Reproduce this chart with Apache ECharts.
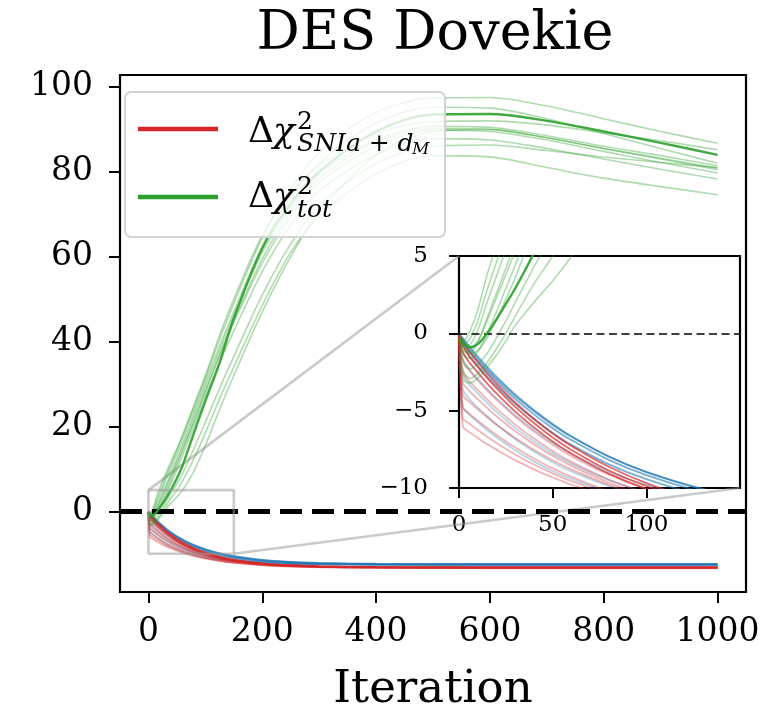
<!DOCTYPE html>
<html>
<head>
<meta charset="utf-8">
<script src="https://cdn.jsdelivr.net/npm/echarts@6/dist/echarts.min.js"></script>
<style>html,body{margin:0;padding:0;background:#fff}#c{width:779px;height:710px}</style>
</head>
<body>
<div id="c"></div>
<script>
// ---------------- data ----------------
const TITLE = 'DES Dovekie';
const X_LABEL = 'Iteration';
const X_TICKS = [0, 200, 400, 600, 800, 1000];
const Y_TICKS = [0, 20, 40, 60, 80, 100];
const INSET_X_TICKS = [0, 50, 100];
const INSET_Y_TICKS = [-10, -5, 0, 5];
const ZOOM_X = [0, 150];
const ZOOM_Y = [-10, 5];

// iteration samples for the green (total) runs
const ITER_G = [0,3,6,10,15,20,25,30,40,50,60,80,100,125,150,200,250,300,400,500,600,700,800,900,1000];
const GREEN_MAIN = [-0.3,-0.7,-0.9,-0.7,0.0,0.9,1.9,2.9,5.2,7.8,10.8,18.5,26.0,35.0,45.5,62.0,72.5,80.0,89.5,93.5,93.6,92.0,89.5,86.8,84.0];
const GREEN_RUNS = [
  [-0.2,-0.4,0.2,1.5,3.8,5.6,7.2,8.8,11.8,14.8,18.0,25.0,32.0,41.5,50.0,65.0,75.0,81.5,89.0,91.8,92.0,91.0,89.2,87.3,85.2],
  [-0.3,-0.6,-0.3,0.8,2.8,4.6,6.3,8.0,11.2,14.4,17.7,24.5,31.5,40.5,49.0,64.5,76.0,84.5,94.0,97.4,97.5,95.5,92.5,89.5,86.7],
  [-0.4,-0.9,-0.7,0.2,2.0,3.7,5.4,7.1,10.3,13.5,16.7,23.5,30.5,39.0,47.0,62.5,74.0,82.0,91.5,95.2,95.0,92.5,89.0,85.5,82.0],
  [-0.5,-1.2,-1.2,-0.6,1.0,2.6,4.2,5.8,9.0,12.3,15.6,22.5,29.5,38.0,46.0,61.0,71.5,79.5,87.5,90.7,90.5,88.5,86.0,83.8,81.4],
  [-0.3,-0.8,-0.9,-0.5,0.8,2.3,3.8,5.3,8.4,11.6,14.8,21.5,28.5,37.0,45.0,59.5,70.5,78.5,87.0,90.2,90.0,88.0,85.5,83.2,80.9],
  [-0.6,-1.5,-1.6,-1.2,0.0,1.4,2.9,4.4,7.6,10.9,14.2,21.0,28.0,36.5,44.5,58.5,69.5,77.5,86.0,89.8,89.5,87.5,84.8,82.2,79.7],
  [-0.4,-1.0,-1.3,-1.1,-0.3,0.9,2.2,3.6,6.7,9.9,13.2,20.0,27.0,35.0,42.5,56.5,67.5,75.5,84.0,87.8,87.5,85.5,83.0,80.6,78.3],
  [-1.0,-2.0,-2.3,-2.0,-1.3,-0.3,0.8,2.0,4.3,6.5,9.0,14.8,21.0,29.0,36.5,51.0,63.0,72.0,82.0,86.0,86.3,85.0,83.5,82.2,81.0],
  [-1.5,-2.6,-2.9,-2.6,-1.9,-1.0,0.0,1.1,3.2,5.0,7.2,12.5,18.5,26.5,34.0,48.5,61.0,69.5,79.5,83.8,83.5,81.0,78.5,76.5,74.6],
  [-2.0,-3.1,-3.2,-2.9,-2.2,-1.4,-0.5,0.5,2.0,3.4,5.0,9.5,15.5,24.0,32.0,47.0,60.0,70.5,84.0,89.5,90.0,88.0,85.5,83.0,80.5]
];

// iteration samples for the SNIa+dM runs (red) and the other runs (blue)
const ITER_RB = [0,2,5,10,15,20,30,40,50,60,80,100,125,150,200,250,300,400,600,800,1000];
const BLUE_RUNS = [
  [0,-0.3,-0.76,-1.49,-2.16,-2.8,-3.95,-4.96,-5.86,-6.65,-7.96,-8.97,-9.92,-10.63,-11.5,-11.98,-12.23,-12.43,-12.5,-12.5,-12.5],
  [-0.1,-0.5,-1.07,-1.79,-2.46,-3.09,-4.24,-5.24,-6.13,-6.9,-8.18,-9.17,-10.1,-10.76,-11.6,-12.02,-12.26,-12.43,-12.5,-12.5,-12.5],
  [-0.1,-0.4,-0.94,-1.65,-2.31,-2.93,-4.06,-5.04,-5.92,-6.69,-7.97,-8.96,-9.89,-10.57,-11.42,-11.89,-12.13,-12.33,-12.4,-12.4,-12.4],
  [-0.1,-0.7,-1.37,-2.1,-2.77,-3.41,-4.56,-5.56,-6.44,-7.21,-8.47,-9.43,-10.33,-10.98,-11.77,-12.17,-12.38,-12.54,-12.6,-12.6,-12.6],
  [-0.2,-1.6,-2.25,-2.94,-3.59,-4.19,-5.29,-6.24,-7.07,-7.77,-8.94,-9.8,-10.61,-11.17,-11.84,-12.17,-12.34,-12.47,-12.5,-12.5,-12.5],
  [-0.2,-2.6,-3.22,-3.88,-4.5,-5.08,-6.11,-6.99,-7.76,-8.42,-9.49,-10.28,-10.99,-11.49,-12.06,-12.35,-12.48,-12.58,-12.6,-12.6,-12.6],
  [-0.3,-3.6,-4.17,-4.79,-5.35,-5.88,-6.83,-7.64,-8.33,-8.93,-9.87,-10.56,-11.19,-11.6,-12.09,-12.31,-12.41,-12.48,-12.5,-12.5,-12.5],
  [-0.3,-4.7,-5.19,-5.74,-6.25,-6.72,-7.56,-8.28,-8.9,-9.42,-10.26,-10.88,-11.43,-11.8,-12.23,-12.43,-12.52,-12.58,-12.6,-12.6,-12.6]
];
const RED_RUNS = [
  [-0.1,-0.5,-1.11,-1.87,-2.58,-3.25,-4.47,-5.52,-6.47,-7.28,-8.63,-9.68,-10.66,-11.36,-12.25,-12.7,-12.94,-13.13,-13.2,-13.2,-13.2],
  [-0.1,-0.8,-1.41,-2.17,-2.88,-3.55,-4.76,-5.8,-6.74,-7.54,-8.87,-9.87,-10.82,-11.5,-12.33,-12.75,-12.97,-13.14,-13.2,-13.2,-13.2],
  [-0.1,-1.2,-1.79,-2.54,-3.23,-3.88,-5.06,-6.08,-6.99,-7.78,-9.07,-10.05,-10.98,-11.64,-12.45,-12.86,-13.08,-13.24,-13.3,-13.3,-13.3],
  [-0.2,-1.8,-2.34,-3.04,-3.68,-4.29,-5.39,-6.35,-7.2,-7.94,-9.14,-10.06,-10.93,-11.55,-12.31,-12.69,-12.89,-13.04,-13.1,-13.1,-13.1],
  [-0.2,-2.5,-3.0,-3.66,-4.27,-4.85,-5.9,-6.8,-7.61,-8.31,-9.45,-10.32,-11.14,-11.73,-12.45,-12.81,-13.0,-13.15,-13.2,-13.2,-13.2],
  [-0.2,-3.2,-3.65,-4.26,-4.82,-5.36,-6.33,-7.17,-7.92,-8.57,-9.65,-10.49,-11.27,-11.83,-12.54,-12.9,-13.09,-13.24,-13.3,-13.3,-13.3],
  [-0.3,-4.0,-4.37,-4.92,-5.43,-5.91,-6.77,-7.53,-8.21,-8.8,-9.79,-10.55,-11.26,-11.79,-12.45,-12.81,-12.99,-13.14,-13.2,-13.2,-13.2],
  [-0.3,-4.8,-5.14,-5.65,-6.12,-6.57,-7.38,-8.09,-8.73,-9.28,-10.21,-10.92,-11.59,-12.08,-12.7,-13.03,-13.21,-13.35,-13.4,-13.4,-13.4],
  [-0.4,-5.5,-5.79,-6.25,-6.68,-7.09,-7.83,-8.48,-9.05,-9.56,-10.4,-11.04,-11.65,-12.1,-12.66,-12.96,-13.12,-13.25,-13.3,-13.3,-13.3],
  [-0.5,-6.0,-6.34,-6.76,-7.16,-7.52,-8.2,-8.8,-9.32,-9.79,-10.55,-11.12,-11.68,-12.1,-12.6,-12.9,-13.04,-13.16,-13.2,-13.2,-13.2]
];

// ---------------- chart ----------------
const FONT = 'DejaVu Serif';
const chart = echarts.init(document.getElementById('c'), null, {renderer: 'canvas'});
const pairs = (xs, ys) => xs.map((x, i) => [x, ys[i]]);
const minus = v => (v < 0 ? '\u2212' + Math.abs(v) : String(v));
const plain = v => String(v);

const series = [];
function addRun(name, xs, ys, color, width, z) {
  [0, 1].forEach(g => {
    series.push({
      name: name, type: 'line', xAxisIndex: g, yAxisIndex: g,
      data: pairs(xs, ys), showSymbol: false, symbol: 'none',
      smooth: 0.3, clip: true, silent: true, z: z,
      lineStyle: {color: color, width: width}
    });
  });
}
BLUE_RUNS.forEach((r, i) => addRun('other', ITER_RB, r, i < 4 ? 'rgba(31,119,180,0.6)' : 'rgba(31,119,180,0.32)', 1.8, 2));
RED_RUNS.forEach((r, i) => addRun('SNIa', ITER_RB, r, i < 3 ? 'rgba(214,39,40,0.7)' : 'rgba(214,39,40,0.35)', 1.8, 3));
GREEN_RUNS.forEach(r => addRun('tot', ITER_G, r, 'rgba(44,160,44,0.38)', 1.6, 4));
addRun('tot', ITER_G, GREEN_MAIN, 'rgba(44,160,44,0.9)', 2.4, 5);

// zoom rectangle + zero line in main axes
series.push({
  type: 'line', xAxisIndex: 0, yAxisIndex: 0, silent: true, z: 6, symbol: 'none',
  data: [[ZOOM_X[0], ZOOM_Y[0]], [ZOOM_X[1], ZOOM_Y[0]], [ZOOM_X[1], ZOOM_Y[1]], [ZOOM_X[0], ZOOM_Y[1]], [ZOOM_X[0], ZOOM_Y[0]]],
  lineStyle: {color: 'rgba(150,150,150,0.5)', width: 2.6},
  markLine: {silent: true, symbol: 'none', label: {show: false},
    lineStyle: {color: '#000', width: 4.8, type: [22, 10]}, data: [{yAxis: 0}]}
});
// zero line in inset
series.push({
  type: 'line', xAxisIndex: 1, yAxisIndex: 1, silent: true, z: 6, symbol: 'none', data: [],
  markLine: {silent: true, symbol: 'none', label: {show: false},
    lineStyle: {color: '#000', width: 1.6, type: [8, 4.5]}, data: [{yAxis: 0}]}
});

const axisText = size => ({fontFamily: FONT, fontSize: size, color: '#000'});
const tick = (len, vals) => ({show: true, length: len, lineStyle: {color: '#000', width: 2}, customValues: vals});
const option = {
  animation: false,
  backgroundColor: '#fff',
  title: {text: TITLE, left: 430, top: 3, textAlign: 'center',
    textStyle: {fontFamily: FONT, fontSize: 54, fontWeight: 'normal', color: '#000'}},
  grid: [
    {left: 120, top: 75, width: 626, height: 517, show: true, borderColor: '#000', borderWidth: 2.2,
      backgroundColor: 'transparent', containLabel: false, outerBoundsMode: 'none'},
    {left: 459, top: 256, width: 281, height: 232, show: true, borderColor: '#000', borderWidth: 2.2,
      backgroundColor: '#fff', containLabel: false, outerBoundsMode: 'none', z: 1}
  ],
  xAxis: [
    {type: 'value', gridIndex: 0, min: -50, max: 1050, splitLine: {show: false},
      axisLine: {show: false, onZero: false},
      axisTick: tick(11, X_TICKS),
      axisLabel: Object.assign({margin: 24, customValues: X_TICKS, formatter: plain}, axisText(33)),
      name: X_LABEL, nameLocation: 'middle', nameGap: 76, nameTextStyle: axisText(45)},
    {type: 'value', gridIndex: 1, min: ZOOM_X[0], max: ZOOM_X[1], splitLine: {show: false},
      axisLine: {show: false, onZero: false},
      axisTick: tick(10, INSET_X_TICKS),
      axisLabel: Object.assign({margin: 26, customValues: INSET_X_TICKS, formatter: plain}, axisText(23))}
  ],
  yAxis: [
    {type: 'value', gridIndex: 0, min: -19, max: 102.8, splitLine: {show: false},
      axisLine: {show: false, onZero: false},
      axisTick: tick(11, Y_TICKS),
      axisLabel: Object.assign({margin: 27, customValues: Y_TICKS, formatter: plain}, axisText(33))},
    {type: 'value', gridIndex: 1, min: ZOOM_Y[0], max: ZOOM_Y[1], splitLine: {show: false},
      axisLine: {show: false, onZero: false},
      axisTick: tick(10, INSET_Y_TICKS),
      axisLabel: Object.assign({margin: 31, customValues: INSET_Y_TICKS, formatter: minus}, axisText(23))}
  ],
  series: series
};
chart.setOption(option);

// connectors of the zoom indicator + legend
const pA = chart.convertToPixel({gridIndex: 0}, [ZOOM_X[0], ZOOM_Y[1]]);
const pB = chart.convertToPixel({gridIndex: 1}, [ZOOM_X[0], ZOOM_Y[1]]);
const pC = chart.convertToPixel({gridIndex: 0}, [ZOOM_X[1], ZOOM_Y[0]]);
const pD = chart.convertToPixel({gridIndex: 1}, [ZOOM_X[1], ZOOM_Y[0]]);
const conn = (p, q) => ({type: 'line', z: 1, silent: true,
  shape: {x1: p[0], y1: p[1], x2: q[0], y2: q[1]},
  style: {stroke: 'rgba(150,150,150,0.5)', lineWidth: 2.6}});
const txt = (x, y, text, size, italic) => ({type: 'text', z: 101, silent: true,
  style: {x: x, y: y, text: text, fill: '#000', verticalAlign: 'middle',
    font: (italic ? 'italic ' : '') + size + 'px "' + FONT + '"'}});
const LEG = {x: 125, y: 92, w: 320, h: 145};
chart.setOption({
  graphic: [
    conn(pA, pB), conn(pC, pD),
    {type: 'rect', z: 100, silent: true, shape: {x: LEG.x, y: LEG.y, width: LEG.w, height: LEG.h, r: 6},
      style: {fill: 'rgba(255,255,255,0.8)', stroke: '#d3d3d3', lineWidth: 2}},
    {type: 'line', z: 101, silent: true, shape: {x1: 138, y1: 129, x2: 218, y2: 129}, style: {stroke: '#d62728', lineWidth: 4.5}},
    {type: 'line', z: 101, silent: true, shape: {x1: 138, y1: 197, x2: 218, y2: 197}, style: {stroke: '#2ca02c', lineWidth: 4.5}},
    txt(248, 133, '\u0394', 36, false),
    txt(273, 133, '\u03c7', 36, true),
    txt(297, 122, '2', 25, false),
    txt(297, 144, 'SNIa + d', 25, true),
    txt(412, 150, 'M', 17, true),
    txt(248, 198, '\u0394', 36, false),
    txt(273, 198, '\u03c7', 36, true),
    txt(297, 187, '2', 25, false),
    txt(297, 210, 'tot', 25, true)
  ]
});
</script>
</body>
</html>
